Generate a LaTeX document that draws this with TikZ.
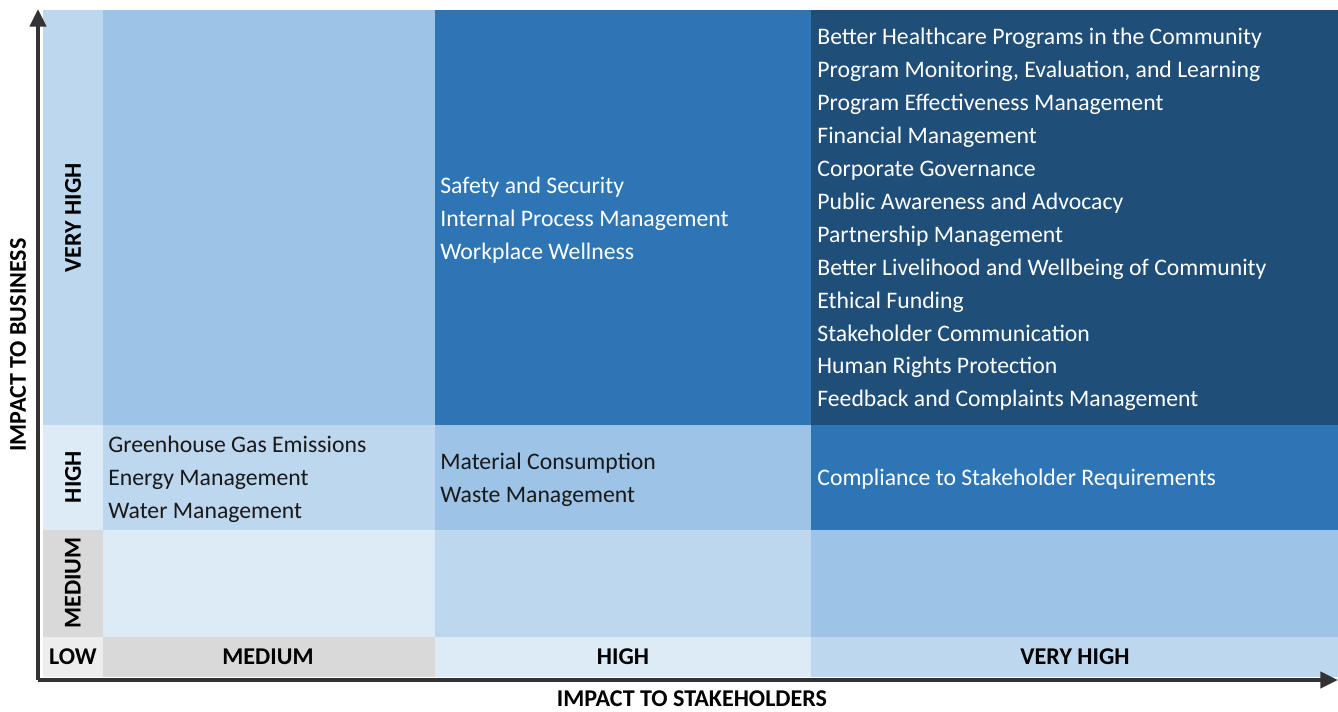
\documentclass[tikz,border=0pt]{standalone}
\usepackage{fontspec}
\setmainfont{Carlito}
\usetikzlibrary{arrows.meta}

\definecolor{paleblue}{HTML}{DDEBF7}
\definecolor{lightblue}{HTML}{BDD7EE}
\definecolor{midblue}{HTML}{9DC3E6}
\definecolor{strongblue}{HTML}{2E75B6}
\definecolor{deepblue}{HTML}{1F4E79}
\definecolor{greycell}{HTML}{D9D9D9}
\definecolor{palegrey}{HTML}{EDEDED}
\definecolor{axisgrey}{HTML}{333333}

\tikzset{
  item/.style={anchor=west, align=left, inner sep=0pt, text=black!90,
    font=\fontsize{13.5}{18.75}\selectfont},
  whiteitem/.style={item, text=white},
  level/.style={inner sep=0pt, font=\bfseries\fontsize{13.7}{15}\selectfont},
  axislabel/.style={inner sep=0pt, font=\bfseries\fontsize{13.7}{15}\selectfont},
  axis/.style={line width=2.4pt, draw=axisgrey, -{Triangle[length=10pt, width=9pt]}}
}

\begin{document}
\begin{tikzpicture}[x=0.02cm, y=-0.02cm]
\useasboundingbox (0,0) rectangle (1338,711);

% level column on the left
\fill[lightblue] (43,10) rectangle (103,425);
\fill[paleblue] (43,425) rectangle (103,530);
\fill[greycell] (43,530) rectangle (103,637);
\fill[palegrey] (43,637) rectangle (103,677);

% level row at the bottom
\fill[greycell] (103,637) rectangle (435,677);
\fill[paleblue] (435,637) rectangle (811,677);
\fill[lightblue] (811,637) rectangle (1338,677);

% matrix cells
\fill[midblue] (103,10) rectangle (435,425);
\fill[strongblue] (435,10) rectangle (811,425);
\fill[deepblue] (811,10) rectangle (1338,425);
\fill[lightblue] (103,425) rectangle (435,530);
\fill[midblue] (435,425) rectangle (811,530);
\fill[strongblue] (811,425) rectangle (1338,530);
\fill[paleblue] (103,530) rectangle (435,637);
\fill[lightblue] (435,530) rectangle (811,637);
\fill[midblue] (811,530) rectangle (1338,637);

% axes
\coordinate (origin) at (38,680);
\coordinate (ytip) at (38,9);
\coordinate (xtip) at (1338,680);
\draw[axis] (origin) -- (ytip);
\draw[axis] (origin) -- (xtip);

\node[axislabel, rotate=90] (business) at (18,345) {IMPACT TO BUSINESS};
\node[axislabel] (stakeholders) at (692,699) {IMPACT TO STAKEHOLDERS};

% level labels
\node[level, rotate=90] (rowvh) at (73,218) {VERY HIGH};
\node[level, rotate=90] (rowh) at (73,477) {HIGH};
\node[level, rotate=90] (rowm) at (73,583) {MEDIUM};
\node[level] (low) at (73,657) {LOW};
\node[level] (colm) at (268,657) {MEDIUM};
\node[level] (colh) at (623,657) {HIGH};
\node[level] (colvh) at (1075,657) {VERY HIGH};

% topics
\node[item] (environment) at (108,479) {Greenhouse Gas Emissions\\Energy Management\\Water Management};
\node[item] (resources) at (440,479.5) {Material Consumption\\Waste Management};
\node[whiteitem] (compliance) at (817,479) {Compliance to Stakeholder Requirements};
\node[whiteitem] (workplace) at (440,220) {Safety and Security\\Internal Process Management\\Workplace Wellness};
\node[whiteitem] (community) at (817,219.5) {Better Healthcare Programs in the Community\\
  Program Monitoring, Evaluation, and Learning\\
  Program Effectiveness Management\\
  Financial Management\\
  Corporate Governance\\
  Public Awareness and Advocacy\\
  Partnership Management\\
  Better Livelihood and Wellbeing of Community\\
  Ethical Funding\\
  Stakeholder Communication\\
  Human Rights Protection\\
  Feedback and Complaints Management};
\end{tikzpicture}
\end{document}
